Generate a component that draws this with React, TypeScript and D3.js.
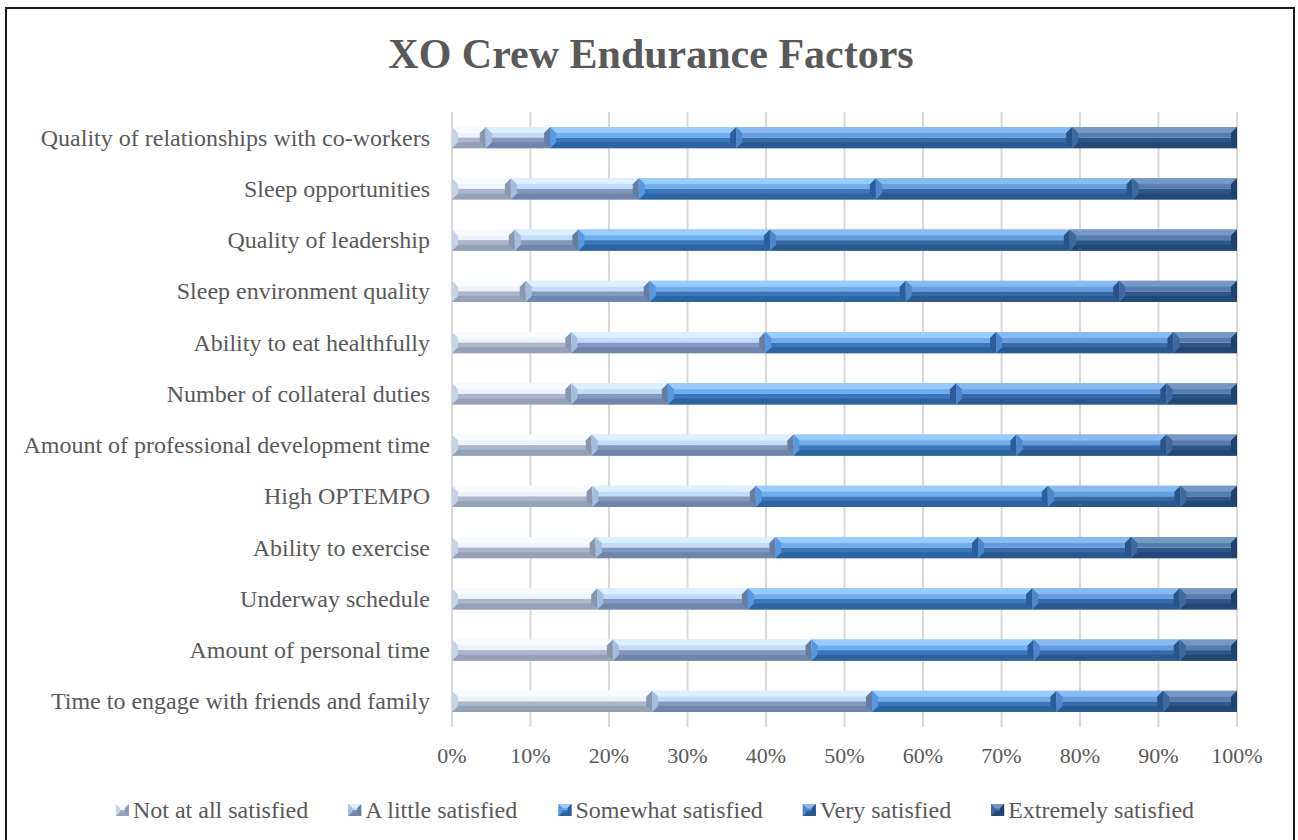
import React, { useMemo } from "react";
import * as d3 from "d3";

// categories listed top to bottom
const categories = [
  "Quality of relationships with co-workers",
  "Sleep opportunities",
  "Quality of leadership",
  "Sleep environment quality",
  "Ability to eat healthfully",
  "Number of collateral duties",
  "Amount of professional development time",
  "High OPTEMPO",
  "Ability to exercise",
  "Underway schedule",
  "Amount of personal time",
  "Time to engage with friends and family",
];

const seriesNames = [
  "Not at all satisfied",
  "A little satisfied",
  "Somewhat satisfied",
  "Very satisfied",
  "Extremely satisfied",
];

// percentages per category (same order as categories)
const notAtAll = [4.3, 7.5, 8.0, 9.4, 15.2, 15.2, 17.8, 17.9, 18.3, 18.5, 20.5, 25.5];
const aLittle = [8.2, 16.3, 8.1, 15.8, 24.7, 12.3, 25.7, 20.8, 22.9, 19.2, 25.3, 28.0];
const somewhat = [23.7, 30.2, 24.4, 32.6, 29.4, 36.7, 28.4, 37.2, 25.8, 36.2, 28.3, 23.5];
const very = [42.8, 32.7, 38.2, 27.2, 22.6, 26.8, 19.1, 16.9, 19.5, 18.8, 18.6, 13.6];
const extremely = [21.0, 13.3, 21.3, 15.0, 8.1, 9.0, 9.0, 7.2, 13.5, 7.3, 7.3, 9.4];

const xTicks = [0, 10, 20, 30, 40, 50, 60, 70, 80, 90, 100];
const xTickLabels = xTicks.map((t) => `${t}%`);

// bevel look: top facet, face upper, face lower, bottom facet, left facet, right facet
const palette = [
  { top: "#f7fbff", upper: "#eef3fa", lower: "#aab6cb", bottom: "#95a1b7", left: "#c6d1e4", right: "#8a96ac" },
  { top: "#dcefff", upper: "#c0dcf8", lower: "#8499bf", bottom: "#6f85aa", left: "#a5bddf", right: "#667ca1" },
  { top: "#99cbff", upper: "#6eaef0", lower: "#3b77bd", bottom: "#2e63a2", left: "#5898e0", right: "#2a5d9a" },
  { top: "#88baf0", upper: "#629de0", lower: "#366baa", bottom: "#2b598f", left: "#4d87cd", right: "#27538a" },
  { top: "#7598c5", upper: "#577daf", lower: "#2d578a", bottom: "#224875", left: "#3d69a0", right: "#1d416b" },
];

const FONT = "'Liberation Serif', 'Times New Roman', serif";
const TEXT = "#595959";

const width = 1298;
const height = 840;
const margin = { top: 112, right: 61, bottom: 113, left: 452 };
const bevel = 6;

const measure = (txt: string, size: number) => {
  const ctx = document.createElement("canvas").getContext("2d");
  if (!ctx) return txt.length * size * 0.45;
  ctx.font = `${size}px ${FONT}`;
  return ctx.measureText(txt).width;
};

const Segment = ({ x0, x1, y, h, i }: { x0: number; x1: number; y: number; h: number; i: number }) => {
  const c = palette[i];
  const b = Math.min(bevel, (x1 - x0) / 2, h / 3);
  const mid = y + h / 2;
  return (
    <g>
      {/* face */}
      <rect x={x0} y={y} width={x1 - x0} height={h / 2} fill={c.upper} />
      <rect x={x0} y={mid} width={x1 - x0} height={h / 2} fill={c.lower} />
      {/* top / bottom facets */}
      <polygon points={`${x0},${y} ${x1},${y} ${x1 - b},${y + b} ${x0 + b},${y + b}`} fill={c.top} />
      <polygon points={`${x0},${y + h} ${x1},${y + h} ${x1 - b},${y + h - b} ${x0 + b},${y + h - b}`} fill={c.bottom} />
      {/* side facets */}
      <polygon points={`${x0},${y} ${x0 + b},${y + b} ${x0 + b},${y + h - b} ${x0},${y + h}`} fill={c.left} />
      <polygon points={`${x1},${y} ${x1 - b},${y + b} ${x1 - b},${y + h - b} ${x1},${y + h}`} fill={c.right} />
    </g>
  );
};

export default function App() {
  const rows = useMemo(
    () =>
      categories.map((cat, i) => ({
        cat,
        [seriesNames[0]]: notAtAll[i],
        [seriesNames[1]]: aLittle[i],
        [seriesNames[2]]: somewhat[i],
        [seriesNames[3]]: very[i],
        [seriesNames[4]]: extremely[i],
      })),
    []
  );

  const stacked = useMemo(() => {
    const s = d3.stack<any>().keys(seriesNames);
    // normalise each row to 100%
    s.offset(d3.stackOffsetExpand);
    return s(rows);
  }, [rows]);

  const x = d3.scaleLinear().domain([0, 1]).range([margin.left, width - margin.right]);
  const y = d3
    .scaleBand()
    .domain(categories)
    .range([margin.top, height - margin.bottom])
    .paddingInner(0.59)
    .paddingOuter(0.295);

  // legend layout
  const legendSize = 24;
  const markerW = 13;
  const markerGap = 4;
  const itemGap = 40;
  const widths = seriesNames.map((n) => markerW + markerGap + measure(n, legendSize));
  const totalW = d3.sum(widths) + itemGap * (seriesNames.length - 1);
  let cursor = 655 - totalW / 2;
  const legendItems = seriesNames.map((n, i) => {
    const item = { name: n, x: cursor, i };
    cursor += widths[i] + itemGap;
    return item;
  });
  const legendY = 810;

  return (
    <svg
      width={width}
      height={height}
      style={{ position: "absolute", left: 0, top: 0, background: "#fff" }}
      fontFamily={FONT}
    >
      <rect x={0} y={0} width={width} height={height} fill="#fff" />
      <rect x={6} y={8} width={1288} height={850} fill="none" stroke="#1a1a1a" strokeWidth={2} />

      <text x={651} y={68} textAnchor="middle" fontSize={42} fontWeight="bold" fill={TEXT}>
        XO Crew Endurance Factors
      </text>

      {/* gridlines */}
      {xTicks.map((t) => (
        <line
          key={t}
          x1={x(t / 100)}
          x2={x(t / 100)}
          y1={margin.top}
          y2={height - margin.bottom}
          stroke="#d9d9d9"
          strokeWidth={2}
        />
      ))}

      {/* bars */}
      {stacked.map((series, si) =>
        series.map((d, ri) => (
          <Segment
            key={`${si}-${ri}`}
            x0={x(d[0])}
            x1={x(d[1])}
            y={y(categories[ri]) as number}
            h={y.bandwidth()}
            i={si}
          />
        ))
      )}

      {/* category labels */}
      {categories.map((c) => (
        <text
          key={c}
          x={430}
          y={(y(c) as number) + y.bandwidth() / 2}
          dy="0.33em"
          textAnchor="end"
          fontSize={24}
          fill={TEXT}
        >
          {c}
        </text>
      ))}

      {/* x tick labels */}
      {xTicks.map((t, i) => (
        <text key={t} x={x(t / 100)} y={763} textAnchor="middle" fontSize={22} fill={TEXT}>
          {xTickLabels[i]}
        </text>
      ))}

      {/* legend */}
      {legendItems.map((it) => (
        <g key={it.name}>
          <Segment x0={it.x} x1={it.x + markerW} y={legendY - 6} h={12} i={it.i} />
          <text x={it.x + markerW + markerGap} y={legendY} dy="0.33em" fontSize={legendSize} fill={TEXT}>
            {it.name}
          </text>
        </g>
      ))}
    </svg>
  );
}
